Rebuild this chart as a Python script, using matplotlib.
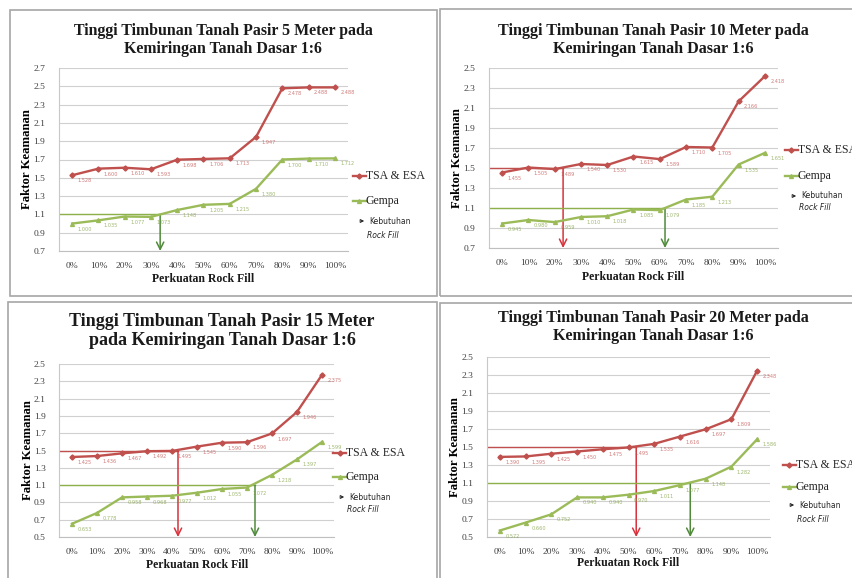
import matplotlib
matplotlib.use("Agg")
import matplotlib.pyplot as plt
from matplotlib.patches import Rectangle, FancyArrowPatch

W, H = 853, 578

categories = ["0%", "10%", "20%", "30%", "40%", "50%", "60%", "70%", "80%", "90%", "100%"]

titles = [
    "Tinggi Timbunan Tanah Pasir 5 Meter pada\nKemiringan Tanah Dasar 1:6",
    "Tinggi Timbunan Tanah Pasir 10 Meter pada\nKemiringan Tanah Dasar 1:6",
    "Tinggi Timbunan Tanah Pasir 15 Meter\npada Kemiringan Tanah Dasar 1:6",
    "Tinggi Timbunan Tanah Pasir 20 Meter pada\nKemiringan Tanah Dasar 1:6",
]

tsa_5m = [1.528, 1.600, 1.610, 1.593, 1.698, 1.706, 1.713, 1.947, 2.478, 2.488, 2.488]
gempa_5m = [1.000, 1.035, 1.077, 1.073, 1.148, 1.205, 1.215, 1.380, 1.700, 1.710, 1.712]

tsa_10m = [1.455, 1.505, 1.489, 1.540, 1.530, 1.615, 1.589, 1.710, 1.705, 2.166, 2.418]
gempa_10m = [0.945, 0.980, 0.959, 1.010, 1.018, 1.085, 1.079, 1.185, 1.213, 1.535, 1.651]

tsa_15m = [1.425, 1.436, 1.467, 1.492, 1.495, 1.545, 1.590, 1.596, 1.697, 1.946, 2.375]
gempa_15m = [0.653, 0.778, 0.958, 0.968, 0.977, 1.012, 1.055, 1.072, 1.218, 1.397, 1.599]

tsa_20m = [1.390, 1.395, 1.425, 1.450, 1.475, 1.495, 1.535, 1.616, 1.697, 1.809, 2.348]
gempa_20m = [0.572, 0.660, 0.752, 0.940, 0.940, 0.970, 1.011, 1.077, 1.148, 1.282, 1.586]

# required safety factors and the rock-fill fraction where each series reaches them
sf_tsa, sf_gempa = 1.5, 1.1
need_tsa = [None, 2.32, 4.24, 5.30]
need_gempa = [3.35, 6.20, 7.32, 7.40]

y_ranges = [(0.7, 2.7), (0.7, 2.5), (0.5, 2.5), (0.5, 2.5)]

# layout in pixels: box (l, t, r, b), axes (l, t, r, b)
boxes = [(10, 10, 437, 296), (440, 9, 860, 296), (8, 302, 437, 590), (440, 303, 860, 590)]
axes_px = [(59, 68, 348, 251), (489, 68, 778, 248), (59.5, 364, 334.5, 537), (487, 357, 770, 537)]
title_y = [40, 40, 331, 327]
title_cx = [223, 653, 222, 653]
title_fs = [11.4, 11.6, 13.0, 11.6]
xlabel_y = [279, 277, 565, 563]
legend_px = [
    (353, 176, 201, 221, 235),
    (785, 150, 176, 196, 208),
    (333, 453, 477, 497, 510),
    (783, 465, 487, 505, 520),
]

RED = "#C0504D"
GREEN = "#9BBB59"
ARROW_RED = "#D9323C"
ARROW_GREEN = "#4F8A3A"
SERIF = ["Liberation Serif", "DejaVu Serif"]

fig = plt.figure(figsize=(W / 100, H / 100), dpi=100)


def fx(px):
    return px / W


def fy(py):
    return 1 - py / H


tsa_all = [tsa_5m, tsa_10m, tsa_15m, tsa_20m]
gempa_all = [gempa_5m, gempa_10m, gempa_15m, gempa_20m]

for i in range(4):
    bl, bt, br, bb = boxes[i]
    fig.patches.append(Rectangle((fx(bl), fy(bb)), fx(br) - fx(bl), fy(bt) - fy(bb),
                                 transform=fig.transFigure, fill=False,
                                 edgecolor="#A6A6A6", linewidth=1.2))

    al, at, ar, ab = axes_px[i]
    ax = fig.add_axes([fx(al), fy(ab), fx(ar) - fx(al), fy(at) - fy(ab)])
    x = list(range(len(categories)))
    y0, y1 = y_ranges[i]
    ax.set_xlim(-0.5, len(categories) - 0.5)
    ax.set_ylim(y0, y1)
    ticks = [round(y0 + 0.2 * k, 1) for k in range(int(round((y1 - y0) / 0.2)) + 1)]
    ax.set_yticks(ticks)
    ax.set_yticklabels([f"{t:.1f}" for t in ticks])
    ax.set_xticks(x)
    ax.set_xticklabels(categories)
    ax.tick_params(axis="y", length=0, labelsize=6.8, labelcolor="#404040", pad=10)
    ax.tick_params(axis="x", length=0, labelsize=6.8, labelcolor="#404040", pad=8)
    for lab in ax.get_xticklabels() + ax.get_yticklabels():
        lab.set_fontfamily(SERIF)
    ax.grid(axis="y", color="#D0D0D0", linewidth=0.8)
    ax.set_axisbelow(True)
    for s in ["top", "right"]:
        ax.spines[s].set_visible(False)
    ax.spines["left"].set_color("#C8C8C8")
    ax.spines["bottom"].set_color("#BFBFBF")

    tsa = tsa_all[i]
    gem = gempa_all[i]

    # requirement lines and arrows
    for need, sf, col_h, col_a in [(need_tsa[i], sf_tsa, RED, ARROW_RED),
                                   (need_gempa[i], sf_gempa, "#8DB04A", ARROW_GREEN)]:
        if need is None:
            continue
        ax.plot([-0.5, need], [sf, sf], color=col_h, linewidth=1.0, zorder=2)
        ax.annotate("", xy=(need, y0), xytext=(need, sf),
                    arrowprops=dict(arrowstyle="->", color=col_a, lw=1.1,
                                    mutation_scale=13, shrinkA=0, shrinkB=0),
                    zorder=2)

    ax.plot(x, tsa, color=RED, linewidth=1.7, marker="D", markersize=2.6, zorder=3)
    ax.plot(x, gem, color=GREEN, linewidth=1.7, marker="^", markersize=2.8, zorder=3)
    for xi, v in zip(x, tsa):
        ax.annotate(f"{v:.3f}", (xi, v), xytext=(4, -4), textcoords="offset points",
                    fontsize=3.6, color=RED, va="center", ha="left", alpha=0.75)
    for xi, v in zip(x, gem):
        ax.annotate(f"{v:.3f}", (xi, v), xytext=(4, -4), textcoords="offset points",
                    fontsize=3.6, color="#7F9F3F", va="center", ha="left", alpha=0.75)

    ax.set_ylabel("Faktor Keamanan", fontsize=9.2, fontweight="bold", family=SERIF, labelpad=0)

    fig.text(fx(title_cx[i]), fy(title_y[i]), titles[i], ha="center", va="center",
             fontsize=title_fs[i], fontweight="bold", family=SERIF, linespacing=1.2,
             color="#1A1A1A")
    fig.text(fx((al + ar) / 2), fy(xlabel_y[i]), "Perkuatan Rock Fill", ha="center",
             va="center", fontsize=8.5, fontweight="bold", family=SERIF, color="#1A1A1A")

    # legend
    lx, ty, gy, ky, ry = legend_px[i]
    fig.add_artist(plt.Line2D([fx(lx), fx(lx + 6.5), fx(lx + 13)], [fy(ty)] * 3, color=RED,
                              linewidth=1.7, marker="D", markersize=2.6, markevery=[1],
                              transform=fig.transFigure))
    fig.text(fx(lx + 13), fy(ty), "TSA & ESA", fontsize=8.5, family=SERIF,
             va="center", ha="left", color="#262626")
    fig.add_artist(plt.Line2D([fx(lx), fx(lx + 6.5), fx(lx + 13)], [fy(gy)] * 3, color=GREEN,
                              linewidth=1.7, marker="^", markersize=2.8, markevery=[1],
                              transform=fig.transFigure))
    fig.text(fx(lx + 13), fy(gy), "Gempa", fontsize=8.5, family=SERIF,
             va="center", ha="left", color="#262626")
    fig.add_artist(FancyArrowPatch((fx(lx + 4), fy(ky)), (fx(lx + 14), fy(ky)),
                                   transform=fig.transFigure, arrowstyle="->",
                                   mutation_scale=5, color="#262626", lw=0.8))
    fig.text(fx(lx + 16), fy(ky), "Kebutuhan", fontsize=5.5, family="DejaVu Sans",
             va="center", ha="left", color="#262626")
    fig.text(fx(lx + 14), fy(ry), "Rock Fill", fontsize=5.5, family="DejaVu Sans",
             style="italic", va="center", ha="left", color="#262626")

fig.savefig("out.png", dpi=100, facecolor="white")
